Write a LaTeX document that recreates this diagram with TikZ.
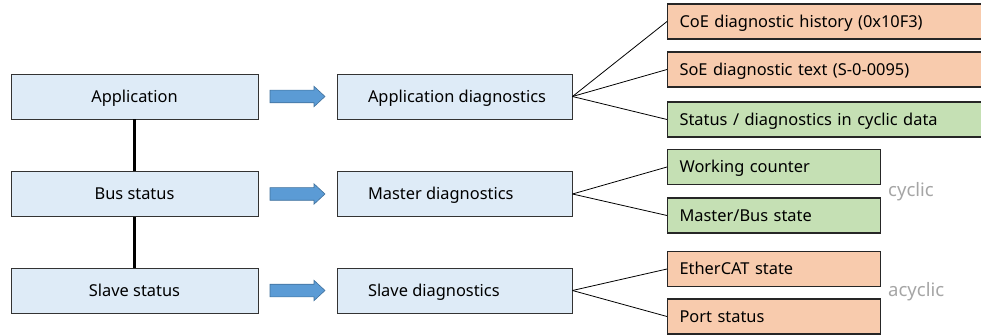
\documentclass[tikz,border=0pt]{standalone}
\usepackage{fontspec}
\setmainfont{Noto Sans}
\usetikzlibrary{calc}
\definecolor{boxblue}{HTML}{DEEBF7}
\definecolor{boxorange}{HTML}{F8CBAD}
\definecolor{boxgreen}{HTML}{C5E0B4}
\definecolor{arrfill}{HTML}{5B9BD5}
\definecolor{arrdraw}{HTML}{41719C}
\definecolor{notegray}{HTML}{A5A5A5}
\tikzset{
  base/.style={rectangle, font=\fontsize{16.4}{19}\selectfont, text height=11.8pt, text depth=0pt, inner ysep=0pt},
  lbox/.style={base, draw=black!80, line width=0.9pt, fill=boxblue, minimum width=247pt, minimum height=45pt},
  mbox/.style={base, draw=black!80, line width=0.9pt, fill=boxblue, minimum width=235pt, minimum height=45pt, inner xsep=31pt},
  rbox/.style={base, draw=black!85, line width=1.1pt, minimum height=35pt, inner xsep=12pt, anchor=west, align=left},
  cyc/.style={font=\fontsize{18.5}{22}\selectfont, text=notegray, anchor=base west, inner sep=0pt},
  conn/.style={draw=black, line width=0.8pt},
  vline/.style={draw=black, line width=3pt},
}
\newcommand{\blockarrow}[1]{%
  \fill[arrfill, draw=arrdraw, line width=0.6pt]
    ($(#1)+(-27.5,-6.3)$) -- ($(#1)+(16.5,-6.3)$) -- ($(#1)+(16.5,-10.2)$) --
    ($(#1)+(27.5,0)$) -- ($(#1)+(16.5,10.2)$) -- ($(#1)+(16.5,6.3)$) --
    ($(#1)+(-27.5,6.3)$) -- cycle;}
\begin{document}
\begin{tikzpicture}[x=1pt,y=-1pt]
\useasboundingbox (0,0) rectangle (981,336);
% left column
\node[lbox] (app) at (134.5,96.5) {Application};
\node[lbox] (bus) at (134.5,194) {Bus status};
\node[lbox] (slv) at (134.5,290.5) {Slave status};
% middle column
\node[mbox] (appd) at (454.5,96.5) {\makebox[173pt][l]{Application diagnostics}};
\node[mbox] (masd) at (454.5,194) {\makebox[173pt][l]{Master diagnostics}};
\node[mbox] (slvd) at (454.5,290.5) {\makebox[173pt][l]{Slave diagnostics}};
% right column
\node[rbox, fill=boxorange, text width=306pt] (coe) at (667,21.5) {CoE diagnostic history (0x10F3)};
\node[rbox, fill=boxorange, text width=306pt] (soe) at (667,69.5) {SoE diagnostic text (S-0-0095)};
\node[rbox, fill=boxgreen, text width=306pt] (cyc) at (667,119.5) {Status / diagnostics in cyclic data};
\node[rbox, fill=boxgreen, text width=189pt] (wc) at (667,167) {Working counter};
\node[rbox, fill=boxgreen, text width=189pt] (mbs) at (667,215.5) {Master/Bus state};
\node[rbox, fill=boxorange, text width=189pt] (ecs) at (667,269) {EtherCAT state};
\node[rbox, fill=boxorange, text width=189pt] (port) at (667,316.5) {Port status};
% notes
\node[cyc] (ncyc) at (888,197) {cyclic};
\node[cyc] (nacyc) at (888,296) {acyclic};
% vertical links
\draw[vline] (app.south) -- (bus.north);
\draw[vline] (bus.south) -- (slv.north);
% block arrows
\coordinate (a1) at ($(app.east)!0.5!(appd.west)$);
\coordinate (a2) at ($(bus.east)!0.5!(masd.west)$);
\coordinate (a3) at ($(slv.east)!0.5!(slvd.west)$);
\blockarrow{a1}
\blockarrow{a2}
\blockarrow{a3}
% fan-out connectors
\draw[conn] (appd.east) -- (coe.west);
\draw[conn] (appd.east) -- (soe.west);
\draw[conn] (appd.east) -- (cyc.west);
\draw[conn] (masd.east) -- (wc.west);
\draw[conn] (masd.east) -- (mbs.west);
\draw[conn] (slvd.east) -- (ecs.west);
\draw[conn] (slvd.east) -- (port.west);
\end{tikzpicture}
\end{document}
